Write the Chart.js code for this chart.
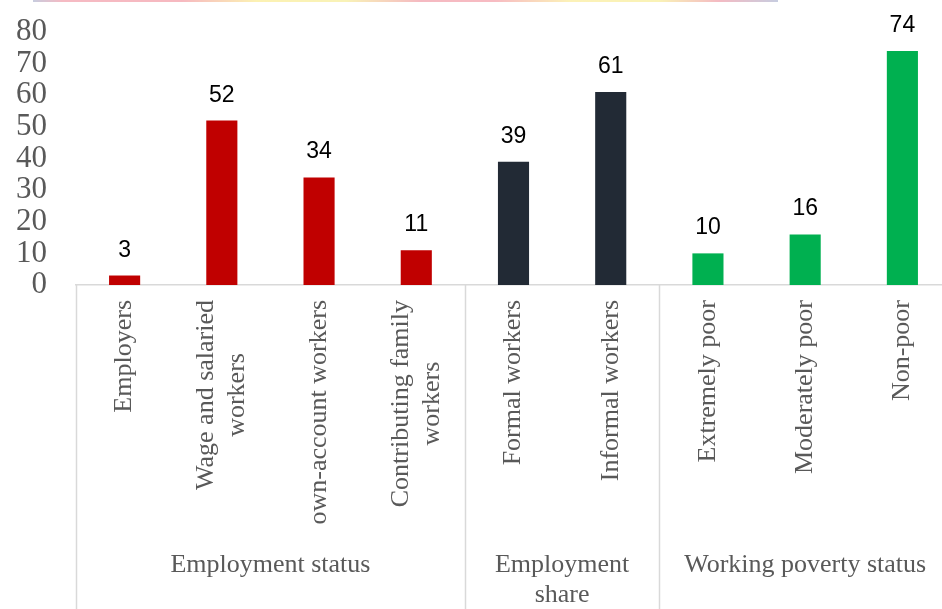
<!DOCTYPE html>
<html>
<head>
<meta charset="utf-8">
<script src="https://cdn.jsdelivr.net/npm/chart.js@4"></script>
<style>
  html, body { margin: 0; padding: 0; background: #fff; overflow: hidden; }
  #wrap { position: relative; width: 942px; height: 609px; overflow: hidden; }
  #strip {
    position: absolute; left: 33px; top: 0; width: 745px; height: 2px;
    background: linear-gradient(to right, #b9bfd6 0%, #f3a9b4 4%, #f4a7b0 20%, #fbeea0 30%, #f7efa5 42%, #f2a8b2 52%, #f5aab3 62%, #fbeea6 72%, #f8efa4 84%, #f1a9b3 92%, #b9c0d8 100%);
    opacity: 0.8;
  }
</style>
</head>
<body>
<div id="wrap">
  <div id="strip"></div>
  <canvas id="chart" width="952" height="609"></canvas>
</div>
<script>
// categories (multi-line labels as arrays)
const categories = [
  ["Employers"],
  ["Wage and salaried", "workers"],
  ["own-account workers"],
  ["Contributing family", "workers"],
  ["Formal workers"],
  ["Informal workers"],
  ["Extremely poor"],
  ["Moderately poor"],
  ["Non-poor"]
];
const values = [3, 52, 34, 11, 39, 61, 10, 16, 74];

// group headings under the category labels
const groupNames = [["Employment status"], ["Employment", "share"], ["Working poverty status"]];
const groupSizes = [4, 2, 3];
const groupColors = ["#C00000", "#222A35", "#00B050"];

const yMin = 0, yMax = 80, yStep = 10;

const serif = '"Liberation Serif", "Times New Roman", serif';
const grey = "#595959";
const lineGrey = "#d9d9d9";

// colour per bar from its group
const barColors = [];
groupSizes.forEach((n, g) => { for (let i = 0; i < n; i++) barColors.push(groupColors[g]); });

const labelsPlugin = {
  id: "labelsPlugin",
  afterDatasetsDraw(chart) {
    const ctx = chart.ctx;
    const meta = chart.getDatasetMeta(0);
    ctx.save();
    ctx.fillStyle = "#000";
    ctx.font = '23px "Liberation Sans", Arial, sans-serif';
    ctx.textAlign = "center";
    ctx.textBaseline = "alphabetic";
    meta.data.forEach((bar, i) => {
      ctx.fillText(String(values[i]), bar.x, bar.y - 19);
    });
    ctx.restore();
  },
  afterDraw(chart) {
    const ctx = chart.ctx;
    const xs = chart.scales.x;
    const area = chart.chartArea;
    const step = xs.getPixelForValue(1) - xs.getPixelForValue(0);
    const edge = i => xs.getPixelForValue(0) - step / 2 + i * step;

    ctx.save();
    // category labels, rotated, block top-aligned, lines centred
    ctx.font = "26px " + serif;
    ctx.fillStyle = grey;
    const lh = 31;
    categories.forEach((lines, i) => {
      const x = xs.getPixelForValue(i);
      const maxW = Math.max(...lines.map(l => ctx.measureText(l).width));
      ctx.save();
      ctx.translate(x, area.bottom + 15);
      ctx.rotate(-Math.PI / 2);
      ctx.textAlign = "center";
      ctx.textBaseline = "middle";
      lines.forEach((l, j) => {
        ctx.fillText(l, -maxW / 2, (j - (lines.length - 1) / 2) * lh);
      });
      ctx.restore();
    });

    // separators and group names
    ctx.strokeStyle = lineGrey;
    ctx.lineWidth = 1.5;
    let start = 0;
    const bounds = [0];
    groupSizes.forEach(n => { start += n; bounds.push(start); });
    bounds.forEach(b => {
      const x = Math.round(edge(b)) + 0.5;
      ctx.beginPath();
      ctx.moveTo(x, area.bottom);
      ctx.lineTo(x, chart.height);
      ctx.stroke();
    });
    ctx.textAlign = "center";
    ctx.textBaseline = "alphabetic";
    groupNames.forEach((lines, g) => {
      const cx = (edge(bounds[g]) + edge(bounds[g + 1])) / 2;
      lines.forEach((l, j) => ctx.fillText(l, cx, 572 + j * 30));
    });
    ctx.restore();
  }
};

new Chart(document.getElementById("chart"), {
  type: "bar",
  data: {
    labels: categories,
    datasets: [{
      data: values,
      backgroundColor: barColors,
      barPercentage: 0.32,
      categoryPercentage: 1
    }]
  },
  options: {
    responsive: false,
    animation: false,
    layout: { padding: { top: 32, right: 1, left: 0, bottom: 0 } },
    plugins: { legend: { display: false }, tooltip: { enabled: false } },
    scales: {
      x: {
        grid: { display: false, drawTicks: false },
        border: { display: true, color: lineGrey, width: 1.5 },
        ticks: { display: false },
        afterFit: s => { s.height = 324; s.paddingLeft = 0; s.paddingRight = 0; }
      },
      y: {
        min: yMin,
        max: yMax,
        grid: { display: false, drawTicks: false },
        border: { display: false },
        ticks: {
          stepSize: yStep,
          autoSkip: false,
          padding: 29,
          color: grey,
          font: { family: serif, size: 31, lineHeight: 1 }
        },
        afterFit: s => { s.width = 76; s.paddingTop = 0; s.paddingBottom = 0; }
      }
    }
  },
  plugins: [labelsPlugin]
});
</script>
</body>
</html>
